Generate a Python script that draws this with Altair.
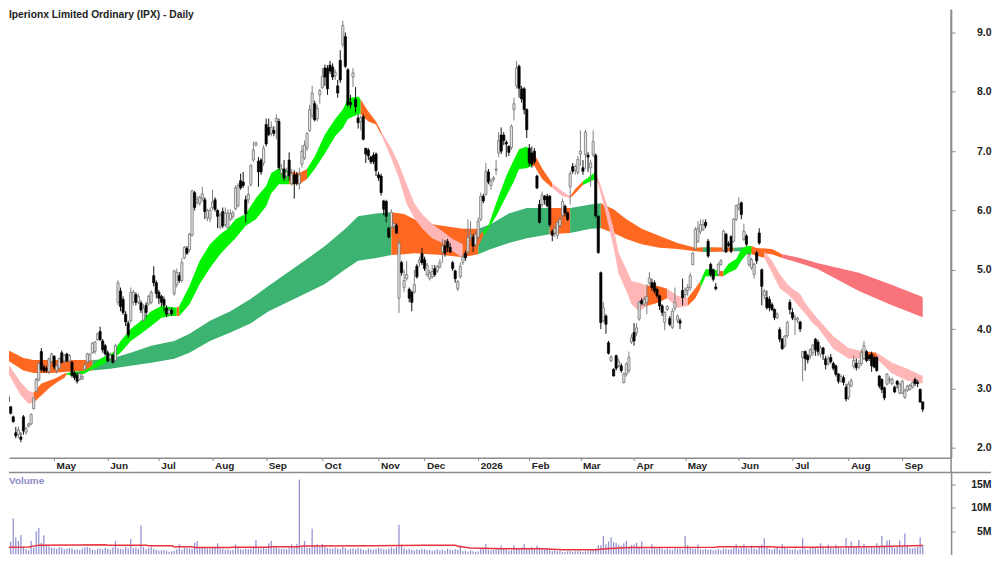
import altair as alt
import pandas as pd

titulo = "Iperionx Limited Ordinary (IPX) - Daily"
titulo_volume = "Volume"

abertura = [
    2.98,2.95,2.86,2.69,2.52,2.25,2.22,2.18,2.52,2.26,
    2.36,2.40,2.66,2.95,3.14,3.62,3.36,3.34,3.28,3.45,
    3.54,3.30,3.34,3.60,3.46,3.58,3.46,3.44,3.26,3.22,
    3.15,3.16,3.32,3.44,3.46,3.60,3.62,3.82,3.96,3.80,
    3.72,3.60,3.50,3.56,3.47,4.45,4.64,4.50,4.25,4.10,
    4.14,4.45,4.58,4.45,4.44,4.15,4.40,4.42,4.45,4.90,
    4.78,4.62,4.55,4.50,4.35,4.26,4.32,4.60,4.75,4.90,
    4.82,5.20,5.36,5.34,5.58,6.30,6.14,6.12,6.20,6.18,
    5.88,5.86,6.05,6.18,6.00,5.72,5.98,5.76,5.71,5.85,
    5.90,6.03,6.08,6.50,6.48,6.18,6.18,6.44,6.85,7.10,
    6.83,6.85,6.80,7.45,7.40,7.30,7.35,7.50,7.50,6.62,
    6.70,6.58,6.85,6.45,6.60,6.60,6.45,6.78,6.88,7.05,
    7.35,7.60,7.80,7.55,7.95,8.07,8.40,8.40,8.45,8.42,
    8.27,8.10,8.53,8.80,8.93,8.37,7.82,8.25,7.87,7.56,
    7.50,7.58,7.05,7.02,6.90,6.93,6.95,6.60,6.58,6.16,
    6.15,5.70,5.72,5.72,5.75,4.52,5.12,4.70,4.85,4.67,
    4.62,4.62,5.06,5.12,5.27,5.17,4.92,4.85,4.88,5.02,
    4.98,5.05,5.30,5.40,5.48,5.38,5.12,4.98,4.68,4.88,
    5.12,5.28,5.30,5.55,5.55,5.42,5.55,5.85,6.24,6.27,
    6.65,6.42,6.52,6.68,6.97,7.27,7.27,7.15,7.08,7.06,
    7.70,8.10,8.43,8.05,8.05,7.70,7.05,6.97,7.00,6.58,
    6.10,6.10,6.24,6.24,6.24,5.65,5.62,5.58,5.74,5.92,
    6.07,5.96,6.40,6.74,6.68,6.64,6.95,6.72,6.94,6.93,
    6.72,6.94,6.93,5.90,4.95,4.14,4.22,3.77,3.47,3.32,
    3.55,3.38,3.38,3.10,3.24,3.30,3.78,3.94,3.94,4.17,
    4.48,4.42,4.45,4.78,4.78,4.78,4.67,4.56,4.39,4.11,
    4.33,4.18,4.03,4.35,4.15,4.14,4.65,4.58,4.65,4.70,
    5.09,5.35,5.48,5.65,5.68,5.80,5.48,5.09,5.00,4.71,
    4.92,5.09,5.32,5.60,5.44,5.56,5.48,5.85,6.04,6.13,
    5.51,5.57,5.09,5.03,4.92,5.29,5.62,5.00,4.56,4.53,
    4.50,4.41,4.33,4.19,3.99,3.83,3.72,3.89,4.45,4.28,
    4.16,4.15,4.12,3.52,3.62,3.55,3.55,3.60,3.83,3.78,
    3.58,3.68,3.50,3.42,3.52,3.42,3.38,3.24,3.12,3.18,
    3.02,2.85,3.04,3.37,3.42,3.36,3.42,3.50,3.62,3.55,
    3.58,3.52,3.52,3.21,3.15,3.01,3.07,3.14,3.08,3.02,
    3.12,2.92,2.92,2.85,2.97,2.98,3.02,3.15,3.10,2.98,
    2.77,
]
maxima = [
    3.00,3.00,2.88,2.70,2.54,2.35,2.36,2.26,2.55,2.35,
    2.42,2.58,2.85,3.18,3.45,3.68,3.40,3.38,3.52,3.60,
    3.56,3.42,3.52,3.64,3.58,3.60,3.58,3.46,3.30,3.27,
    3.30,3.24,3.42,3.60,3.60,3.78,3.80,3.94,4.04,3.83,
    3.75,3.64,3.60,3.58,3.75,4.82,4.70,4.55,4.30,4.14,
    4.70,4.66,4.62,4.60,4.48,4.42,4.45,4.58,4.65,5.06,
    4.82,4.66,4.58,4.55,4.40,4.36,4.36,5.00,5.02,4.96,
    5.20,5.40,5.40,5.62,6.35,6.33,6.24,6.25,6.40,6.22,
    6.03,6.05,6.35,6.22,6.02,5.96,6.05,6.05,6.02,6.02,
    6.00,6.42,6.46,6.62,6.65,6.25,6.42,6.78,7.16,7.16,
    6.90,6.88,7.10,7.55,7.55,7.50,7.42,7.62,7.55,6.78,
    6.85,6.72,6.98,6.70,6.68,6.65,6.72,7.10,7.18,7.32,
    7.78,8.10,7.85,7.78,8.05,8.40,8.46,8.45,8.52,8.48,
    8.38,8.20,8.70,9.20,9.00,8.40,7.95,8.40,8.08,7.62,
    7.60,7.62,7.05,7.05,6.92,6.98,6.98,6.65,6.62,6.18,
    6.18,5.72,6.02,5.80,5.78,5.52,5.15,5.00,5.15,4.70,
    4.65,5.00,5.10,5.22,5.37,5.22,5.12,5.00,5.08,5.08,
    5.08,5.18,5.52,5.50,5.52,5.45,5.15,5.00,4.83,5.12,
    5.27,5.32,5.85,5.82,5.60,5.65,5.88,6.30,6.28,6.80,
    6.70,6.54,6.58,6.85,7.32,7.40,7.32,7.18,7.10,7.45,
    7.90,8.52,8.46,8.10,8.08,7.72,7.12,7.08,7.05,6.60,
    6.18,6.32,6.26,6.28,6.26,5.68,5.76,5.82,5.90,6.20,
    6.10,5.98,6.66,6.80,6.78,6.92,7.35,6.85,7.36,6.98,
    6.85,7.35,6.96,5.92,4.97,4.45,4.25,3.80,3.56,3.34,
    3.57,3.50,3.42,3.27,3.44,3.62,3.92,4.10,4.10,4.48,
    4.52,4.55,4.76,4.96,4.85,4.82,4.70,4.58,4.42,4.30,
    4.40,4.22,4.35,4.70,4.25,4.18,4.85,4.70,4.76,4.95,
    5.30,5.72,5.82,5.85,5.85,5.85,5.52,5.12,5.02,4.78,
    5.12,5.18,5.68,5.62,5.48,5.58,5.87,6.10,6.22,6.15,
    5.78,5.60,5.30,5.20,5.12,5.32,5.70,5.02,4.68,4.65,
    4.55,4.45,4.35,4.28,4.03,3.85,3.90,4.14,4.50,4.35,
    4.25,4.21,4.14,3.63,3.64,3.58,3.68,3.75,3.85,3.82,
    3.72,3.70,3.55,3.55,3.58,3.45,3.40,3.26,3.24,3.22,
    3.08,3.12,3.17,3.55,3.50,3.48,3.66,3.80,3.65,3.58,
    3.62,3.55,3.55,3.22,3.17,3.03,3.26,3.20,3.18,3.05,
    3.14,3.10,3.15,3.00,3.06,3.08,3.12,3.18,3.14,3.00,
    2.78,
]
minimas = [
    2.90,2.80,2.76,2.56,2.42,2.16,2.16,2.09,2.22,2.22,
    2.34,2.38,2.64,2.94,3.12,3.28,3.26,3.26,3.24,3.42,
    3.32,3.25,3.32,3.42,3.42,3.44,3.44,3.18,3.14,3.08,
    3.13,3.14,3.30,3.42,3.44,3.58,3.58,3.80,3.80,3.60,
    3.55,3.44,3.44,3.42,3.45,4.40,4.30,4.24,4.05,3.85,
    4.10,4.40,4.40,4.42,4.27,4.12,4.20,4.40,4.42,4.72,
    4.52,4.42,4.38,4.30,4.20,4.22,4.22,4.56,4.70,4.78,
    4.78,5.18,5.25,5.30,5.56,6.00,6.10,6.08,6.15,5.85,
    5.82,5.80,6.00,5.98,5.70,5.68,5.70,5.72,5.69,5.82,
    5.85,6.00,6.05,6.35,6.38,5.80,6.12,6.40,6.82,7.08,
    6.40,6.60,6.75,7.08,7.25,7.25,7.25,7.20,6.68,6.55,
    6.50,6.50,6.50,6.42,6.20,6.42,6.35,6.72,6.85,7.00,
    7.32,7.55,7.50,7.50,7.80,8.05,8.10,7.95,8.30,8.20,
    8.20,7.90,8.15,8.75,8.40,7.75,7.72,8.08,7.65,7.38,
    7.35,7.18,6.80,6.85,6.78,6.78,6.58,6.50,6.25,5.92,
    5.80,5.53,5.70,5.68,5.60,4.27,4.90,4.62,4.82,4.45,
    4.30,4.60,4.85,5.05,5.08,4.98,4.88,4.82,4.85,4.88,
    4.95,5.02,5.12,5.22,5.30,5.28,4.98,4.78,4.64,4.85,
    5.08,5.15,5.25,5.48,5.30,5.38,5.50,5.82,6.12,6.25,
    6.44,6.35,6.48,6.60,6.90,6.95,7.10,6.90,6.92,7.02,
    7.52,8.05,7.90,7.82,7.62,7.22,6.74,6.72,6.78,6.36,
    5.78,6.05,6.10,6.05,5.72,5.48,5.55,5.52,5.70,5.85,
    5.90,5.82,6.10,6.62,6.60,6.60,6.75,6.60,6.70,6.65,
    6.40,6.90,5.88,5.27,4.00,4.12,3.92,3.57,3.44,3.20,
    3.30,3.35,3.26,3.08,3.20,3.26,3.75,3.72,3.88,4.14,
    4.40,4.38,4.25,4.74,4.65,4.60,4.52,4.32,4.22,3.98,
    4.30,4.05,4.00,4.30,4.10,4.00,4.40,4.52,4.55,4.65,
    5.07,5.33,5.45,5.60,5.65,5.70,5.20,4.88,4.80,4.65,
    4.90,5.07,5.30,5.28,5.38,5.28,5.46,5.82,6.00,5.85,
    5.48,5.40,5.05,5.00,4.85,5.10,5.42,4.40,4.50,4.33,
    4.30,4.30,4.15,4.17,3.78,3.65,3.68,3.85,4.25,4.15,
    3.90,4.10,3.95,3.12,3.30,3.42,3.50,3.55,3.55,3.55,
    3.52,3.48,3.32,3.38,3.42,3.30,3.20,3.08,3.10,3.05,
    2.78,2.80,3.02,3.33,3.30,3.32,3.38,3.48,3.44,3.46,
    3.28,3.34,3.28,3.00,2.92,2.80,3.05,3.08,3.05,2.92,
    3.00,2.90,2.90,2.82,2.94,2.96,3.00,3.04,3.02,2.76,
    2.60,
]
fechamento = [
    2.92,2.82,2.78,2.58,2.44,2.20,2.30,2.14,2.28,2.32,
    2.40,2.56,2.84,3.15,3.42,3.32,3.30,3.30,3.50,3.58,
    3.36,3.38,3.50,3.44,3.56,3.46,3.55,3.22,3.18,3.12,
    3.25,3.20,3.40,3.58,3.57,3.76,3.78,3.92,3.82,3.65,
    3.58,3.46,3.56,3.44,3.72,4.78,4.38,4.28,4.12,3.90,
    4.62,4.62,4.45,4.55,4.32,4.35,4.28,4.55,4.62,4.78,
    4.60,4.52,4.45,4.40,4.25,4.32,4.26,4.98,4.95,4.82,
    5.12,5.38,5.28,5.60,6.33,6.05,6.18,6.22,6.28,5.98,
    6.00,6.00,6.14,6.02,5.90,5.92,5.74,5.95,5.96,5.95,
    5.96,6.38,6.42,6.38,6.42,5.94,6.27,6.76,7.02,7.14,
    6.65,6.65,7.05,7.12,7.28,7.40,7.30,7.55,6.72,6.70,
    6.55,6.65,6.58,6.62,6.45,6.46,6.60,7.00,7.10,7.30,
    7.70,7.98,7.53,7.72,8.02,8.26,8.25,8.05,8.35,8.25,
    8.33,7.98,8.20,9.12,8.43,7.78,7.78,8.32,7.75,7.48,
    7.56,7.20,6.95,6.92,6.82,6.82,6.67,6.55,6.30,6.02,
    5.90,5.55,5.97,5.78,5.62,5.45,4.95,4.82,4.92,4.52,
    4.45,4.75,4.88,5.16,5.12,5.02,5.08,4.95,4.97,4.92,
    5.05,5.12,5.40,5.28,5.38,5.30,5.02,4.85,4.80,5.06,
    5.22,5.20,5.55,5.58,5.40,5.60,5.82,6.24,6.16,6.66,
    6.48,6.50,6.55,6.70,7.18,7.00,7.18,7.12,6.98,7.42,
    7.80,8.40,8.06,7.88,7.70,7.36,6.80,6.78,6.82,6.38,
    5.80,6.26,6.18,6.08,5.76,5.58,5.70,5.80,5.85,6.15,
    5.96,5.85,6.62,6.66,6.74,6.86,7.00,6.66,7.32,6.90,
    6.80,7.16,5.91,5.29,4.11,4.36,4.08,3.59,3.53,3.21,
    3.34,3.45,3.30,3.24,3.41,3.52,3.86,3.80,4.02,4.45,
    4.43,4.50,4.55,4.86,4.70,4.64,4.56,4.39,4.28,4.28,
    4.38,4.08,4.30,4.45,4.22,4.10,4.53,4.66,4.70,4.90,
    5.28,5.68,5.70,5.76,5.76,5.74,5.23,4.92,4.84,4.68,
    5.09,5.15,5.65,5.30,5.41,5.31,5.85,6.08,6.10,5.93,
    5.65,5.43,5.26,5.17,5.09,5.15,5.45,4.72,4.64,4.36,
    4.36,4.33,4.19,4.25,3.83,3.67,3.88,4.11,4.33,4.19,
    4.19,4.18,4.00,3.62,3.50,3.48,3.65,3.73,3.65,3.62,
    3.68,3.58,3.40,3.50,3.45,3.34,3.24,3.12,3.20,3.10,
    2.82,3.07,3.13,3.47,3.35,3.42,3.60,3.72,3.47,3.50,
    3.38,3.36,3.30,3.04,2.98,2.84,3.24,3.16,3.15,2.94,
    3.07,3.07,3.12,2.96,3.04,3.05,3.10,3.08,3.08,2.77,
    2.65,
]
volume = [
    1.0,1.1,1.2,2.7,7.7,3.7,2.9,4.2,1.7,1.1,
    0.8,2.9,1.5,5.0,5.7,2.5,4.1,1.8,1.7,1.5,
    1.4,1.2,1.6,1.5,1.1,1.3,1.4,1.3,1.0,1.1,
    0.9,1.3,1.5,1.6,1.4,1.0,0.9,1.2,1.3,1.1,
    1.4,1.2,1.0,1.5,2.9,1.4,1.2,1.1,1.6,1.3,
    3.3,1.4,1.5,1.2,6.2,1.6,1.1,1.4,1.7,1.2,
    1.0,0.8,0.9,0.9,0.8,0.6,0.7,0.8,1.1,2.2,
    1.0,1.5,1.4,1.3,1.2,2.5,2.9,1.6,1.5,1.4,
    1.3,1.2,1.4,1.5,2.4,1.3,1.2,1.0,1.1,0.9,
    1.0,2.2,1.4,1.1,1.0,1.3,1.1,1.2,1.4,3.1,
    1.6,1.3,1.5,1.2,2.4,2.9,1.4,1.5,1.3,1.2,
    1.3,1.1,1.5,2.2,1.5,2.3,16.1,1.6,2.9,1.5,
    1.4,5.5,1.8,2.2,1.6,2.3,1.7,1.4,1.3,1.2,
    1.5,1.3,1.1,1.6,1.4,1.0,1.2,1.3,1.1,1.4,
    1.2,1.0,0.9,1.3,1.1,1.0,1.2,1.4,1.3,1.1,
    1.0,1.2,1.5,1.3,1.6,6.4,2.1,1.3,1.0,1.2,
    1.0,0.9,1.1,1.0,1.2,1.1,0.9,1.0,0.8,0.9,
    1.1,0.9,1.0,0.8,1.2,1.0,0.9,1.1,1.0,2.0,
    0.7,0.8,0.6,0.9,0.7,0.6,0.7,1.2,1.3,2.3,
    1.0,0.9,1.0,1.1,1.3,1.9,1.2,1.0,0.8,0.9,
    2.0,1.3,1.2,1.5,2.2,1.4,1.3,1.6,1.2,1.9,
    1.5,1.1,1.0,1.3,0.9,0.8,1.0,0.7,0.8,0.6,
    0.5,0.7,0.8,0.6,0.7,0.8,0.7,0.6,0.7,0.8,
    0.9,1.1,1.3,2.0,2.0,4.0,2.2,2.8,3.7,2.6,
    2.5,2.1,1.8,2.4,2.9,1.6,2.0,2.1,2.5,1.4,
    2.8,1.3,1.2,1.1,2.2,1.4,1.3,1.5,1.2,1.0,
    1.3,1.1,1.0,1.4,1.2,1.3,1.1,4.0,2.0,1.4,
    1.3,1.2,2.2,1.1,1.0,1.2,1.0,1.1,0.9,1.0,
    1.1,0.9,1.3,1.2,1.0,1.1,1.4,2.2,1.3,1.5,
    2.2,1.4,1.2,1.9,1.3,1.1,1.6,2.1,3.5,1.5,
    1.2,1.0,1.3,1.5,1.1,2.2,1.4,1.3,1.1,1.0,
    1.2,0.9,1.1,3.5,1.3,1.0,1.4,1.6,1.5,1.3,
    2.4,1.7,1.2,2.1,1.5,1.3,2.1,1.6,1.4,1.2,
    3.5,1.7,2.8,1.5,1.6,3.1,1.4,2.3,1.5,1.3,
    1.6,1.4,2.4,1.7,4.0,1.9,3.0,3.1,1.8,1.4,
    1.7,3.0,1.6,4.5,1.9,1.4,1.3,1.5,1.6,3.7,
    2.1,
]

media_dia = [0,10,14,40,41,56,57,66,67,74,75,89,90,104,105,116,117,145,165,177,178,183,196,211,219,232,236,245,279,280,301,303,317,340,360]
media_vol = [1.5,1.6,2.0,2.07,2.0,2.0,1.87,1.87,1.67,1.67,1.47,1.47,1.53,1.53,1.67,1.67,1.8,1.85,2.0,2.0,1.75,1.4,1.2,1.2,1.0,1.0,1.2,1.47,1.53,1.67,1.67,1.53,1.53,1.67,1.93]

# faixa curta: dia, topo, base
curta_dia = [0,3,7,10,12,15,18,21,24,25,27,32,34,38,43,46,50,54,58,62,66,68,69,73,77,81,85,88,91,95,99,103,105,108,112,116,119,122,126,130,133,135,139,140,143,146,148,152,155,158,161,164,168,172,176,180,183,186,188,190,193,197,200,202,205,207,208,211,215,219,222,224,227,232,233,236,239,241,244,246,249,252,256,260,264,268,271,273,275,278,280,282,284,287,289,291,293,298,301,304,307,309,312,314,317,319,325,331,336,342,348,354,360]
curta_topo = [3.55,3.35,3.10,2.96,2.93,3.08,3.13,3.18,3.25,3.26,3.27,3.30,3.35,3.50,3.60,3.80,4.00,4.14,4.30,4.39,4.37,4.36,4.39,4.73,5.15,5.43,5.60,5.69,5.85,5.94,6.21,6.41,6.63,6.71,6.66,6.63,6.70,6.91,7.28,7.54,7.70,7.89,7.92,7.87,7.67,7.50,7.33,7.05,6.78,6.44,6.12,5.94,5.77,5.65,5.52,5.43,5.48,5.57,5.65,5.74,6.12,6.58,6.86,7.03,7.08,6.96,6.95,6.71,6.46,6.32,6.24,6.36,6.49,6.65,6.54,6.16,5.70,5.28,5.01,4.81,4.78,4.73,4.73,4.68,4.56,4.52,4.69,4.81,5.01,5.01,4.98,4.98,5.10,5.18,5.35,5.40,5.40,5.31,5.15,4.93,4.76,4.68,4.59,4.44,4.27,4.17,3.88,3.68,3.63,3.60,3.43,3.33,3.21]
curta_base = [3.41,3.18,2.88,2.74,2.76,2.88,3.00,3.10,3.18,3.24,3.21,3.25,3.30,3.38,3.50,3.60,3.80,3.92,4.05,4.19,4.22,4.22,4.22,4.42,4.76,5.03,5.26,5.40,5.53,5.74,5.85,6.07,6.29,6.44,6.44,6.44,6.53,6.70,6.96,7.25,7.39,7.54,7.62,7.62,7.50,7.45,7.28,6.88,6.54,6.11,5.87,5.70,5.53,5.45,5.31,5.20,5.28,5.40,5.57,5.69,5.90,6.24,6.49,6.70,6.71,6.75,6.75,6.53,6.38,6.24,6.21,6.29,6.43,6.53,6.44,5.94,5.37,4.93,4.64,4.42,4.30,4.39,4.44,4.52,4.36,4.39,4.52,4.69,4.89,4.89,4.89,4.89,4.95,5.01,5.15,5.26,5.26,5.20,4.95,4.69,4.59,4.51,4.36,4.26,4.10,4.02,3.67,3.50,3.50,3.50,3.25,3.13,3.08]
curta_trechos = [
    (0,12,"rosa"),(12,25,"laranja"),(25,68,"verde"),(68,69,"laranja"),(69,112,"verde"),
    (112,119,"laranja"),(119,140,"verde"),(140,148,"laranja"),(148,180,"rosa"),(180,188,"laranja"),
    (188,207,"verde"),(207,215,"laranja"),(215,222,"rosa"),(222,227,"laranja"),(227,232,"verde"),
    (232,252,"rosa"),(252,260,"laranja"),(260,268,"rosa"),(268,273,"laranja"),(273,280,"verde"),
    (280,282,"laranja"),(282,293,"verde"),(293,298,"laranja"),(298,336,"rosa"),(336,342,"laranja"),
    (342,360,"rosa"),
]

# faixa longa
longa_dia = [0,4,8,12,19,25,35,42,50,58,67,73,81,89,97,104,118,126,134,139,146,152,157,161,167,172,180,186,191,198,205,214,222,230,234,239,244,250,257,264,271,274,277,286,290,301,305,312,319,335,347,360]
longa_topo = [3.68,3.60,3.51,3.48,3.48,3.48,3.48,3.50,3.60,3.72,3.80,3.92,4.14,4.30,4.51,4.73,5.15,5.40,5.69,5.90,5.95,5.97,5.94,5.85,5.77,5.74,5.69,5.69,5.77,5.95,6.04,6.04,6.04,6.10,6.12,6.02,5.85,5.69,5.57,5.45,5.37,5.38,5.38,5.37,5.38,5.35,5.26,5.20,5.11,4.95,4.76,4.54]
longa_base = [3.53,3.41,3.30,3.26,3.26,3.28,3.30,3.33,3.38,3.43,3.50,3.60,3.80,3.94,4.10,4.30,4.59,4.76,5.01,5.15,5.20,5.25,5.26,5.28,5.26,5.25,5.21,5.26,5.35,5.45,5.53,5.60,5.62,5.69,5.70,5.62,5.52,5.43,5.37,5.35,5.31,5.30,5.30,5.31,5.31,5.26,5.20,5.11,5.01,4.64,4.42,4.20]
longa_trechos = [
    (0,35,"laranja"),(35,152,"escuro"),(152,186,"laranja"),(186,214,"escuro"),(214,222,"laranja"),
    (222,234,"escuro"),(234,274,"laranja"),(274,277,"escuro"),(277,286,"laranja"),(286,290,"escuro"),
    (290,305,"laranja"),(305,360,"vermelho"),
]

cores = {"rosa": "#ffb6b6", "laranja": "#ff6820", "verde": "#00f400", "escuro": "#3cb371", "vermelho": "#f8737a"}

meses_dia = [20, 41, 61, 82, 103, 125, 147, 165, 186, 206, 226, 247, 267, 288, 309, 331, 352]
meses_nome = ["May", "Jun", "Jul", "Aug", "Sep", "Oct", "Nov", "Dec", "2026", "Feb", "Mar", "Apr", "May", "Jun", "Jul", "Aug", "Sep"]
precos_eixo = [2.0, 2.5, 3.0, 3.5, 4.0, 4.5, 5.0, 5.5, 6.0, 6.5, 7.0, 7.5, 8.0, 8.5, 9.0]
volumes_eixo = [5, 10, 15]

FONTE = "Liberation Sans"
CINZA = "#8c8c8c"


def montar_faixa(dias, topo, base, trechos):
    faixa = pd.DataFrame({"dia": dias, "topo": topo, "base": base})
    partes = []
    for n, (inicio, fim, cor) in enumerate(trechos):
        parte = faixa[(faixa["dia"] >= inicio) & (faixa["dia"] <= fim)].copy()
        parte["trecho"] = n
        parte["cor"] = cores[cor]
        partes.append(parte)
    return pd.concat(partes)


def grafico_faixa(df):
    return alt.Chart(df).mark_area(clip=True, opacity=1).encode(
        x="dia:Q",
        y="topo:Q",
        y2="base:Q",
        color=alt.Color("cor:N", scale=None),
        detail="trecho:N",
    )


candles = pd.DataFrame({
    "dia": range(len(abertura)),
    "abre": abertura,
    "max": maxima,
    "min": minimas,
    "fecha": fechamento,
    "vol": volume,
})
candles["sobe"] = candles["fecha"] >= candles["abre"]
candles["pavio"] = candles["sobe"].map({True: "#808080", False: "#111111"})
candles["corpo"] = candles["sobe"].map({True: "#e4e4e4", False: "#000000"})
candles["borda"] = candles["sobe"].map({True: "#666666", False: "#000000"})

eixo_x = alt.X(
    "dia:Q",
    title=None,
    scale=alt.Scale(domain=[2.34, 371.1], nice=False, zero=False, padding=0),
    axis=alt.Axis(
        values=meses_dia,
        labelExpr=f"{meses_nome}[indexof({meses_dia}, datum.value)]",
        labelAlign="left",
        labelOffset=2,
        labelPadding=0,
        labelFont=FONTE,
        labelFontSize=10,
        labelFontWeight="bold",
        labelColor="#222222",
        labelFlush=False,
        labelOverlap=False,
        tickSize=3,
        tickColor=CINZA,
        domainColor=CINZA,
        domainWidth=1.5,
        grid=False,
    ),
)
eixo_y = alt.Y(
    "max:Q",
    title=None,
    scale=alt.Scale(domain=[1.832, 9.387], nice=False, zero=False),
    axis=alt.Axis(
        orient="right",
        values=precos_eixo,
        format=".1f",
        labelAlign="right",
        labelPadding=36,
        labelFont=FONTE,
        labelFontSize=10.5,
        labelFontWeight="bold",
        labelColor="#222222",
        tickSize=4,
        tickColor=CINZA,
        domainColor=CINZA,
        domainWidth=1.5,
        grid=False,
    ),
)

pavios = alt.Chart(candles).mark_rule(clip=True, strokeWidth=1).encode(
    x=eixo_x,
    y=eixo_y,
    y2="min:Q",
    color=alt.Color("pavio:N", scale=None),
)
corpos = alt.Chart(candles).mark_bar(clip=True, size=2.2, strokeWidth=0.7, orient="vertical").encode(
    x="dia:Q",
    y="abre:Q",
    y2="fecha:Q",
    fill=alt.Fill("corpo:N", scale=None),
    stroke=alt.Stroke("borda:N", scale=None),
)
texto_titulo = alt.Chart({"values": [{"t": titulo}]}).mark_text(
    align="left", baseline="top", font=FONTE, fontSize=10.3, fontWeight="bold", color="#222222"
).encode(x=alt.value(0), y=alt.value(0), text="t:N")
linha_vertical = alt.Chart({"values": [{}]}).mark_rule(color=CINZA, strokeWidth=1.5).encode(
    x=alt.value(944), y=alt.value(0), y2=alt.value(464)
)

painel_preco = alt.layer(
    grafico_faixa(montar_faixa(longa_dia, longa_topo, longa_base, longa_trechos)),
    grafico_faixa(montar_faixa(curta_dia, curta_topo, curta_base, curta_trechos)),
    pavios,
    corpos,
    texto_titulo,
    linha_vertical,
).properties(width=944, height=449)

eixo_x_vol = alt.X(
    "dia:Q",
    title=None,
    scale=alt.Scale(domain=[2.34, 371.1], nice=False, zero=False, padding=0),
    axis=None,
)
eixo_y_vol = alt.Y(
    "vol:Q",
    title=None,
    scale=alt.Scale(domain=[0, 17.57], nice=False, zero=False),
    axis=alt.Axis(
        orient="right",
        values=volumes_eixo,
        labelExpr="datum.value + 'M'",
        labelAlign="right",
        labelPadding=36,
        labelFont=FONTE,
        labelFontSize=10.5,
        labelFontWeight="bold",
        labelColor="#222222",
        tickSize=4,
        tickColor=CINZA,
        domainColor=CINZA,
        domainWidth=1.5,
        grid=False,
    ),
)
barras_vol = alt.Chart(candles).mark_bar(clip=True, size=1.2, color="#8c8cd2").encode(
    x=eixo_x_vol,
    y=eixo_y_vol,
    y2=alt.Y2(datum=0),
)
media = pd.DataFrame({"dia": media_dia, "media": media_vol})
linha_media = alt.Chart(media).mark_line(clip=True, color="#e8323c", strokeWidth=1.5).encode(
    x="dia:Q",
    y="media:Q",
)
texto_volume = alt.Chart({"values": [{"t": titulo_volume}]}).mark_text(
    align="left", baseline="top", font=FONTE, fontSize=10, fontWeight="bold", color="#8c8cc8"
).encode(x=alt.value(0), y=alt.value(3), text="t:N")
linha_horizontal = alt.Chart({"values": [{}]}).mark_rule(color=CINZA, strokeWidth=1.5).encode(
    x=alt.value(0), x2=alt.value(984), y=alt.value(0)
)

painel_volume = alt.layer(
    barras_vol,
    linha_media,
    texto_volume,
    linha_horizontal,
).properties(width=944, height=82)

chart = alt.vconcat(painel_preco, painel_volume, spacing=15, bounds="flush").properties(
    padding=0
).configure_view(strokeWidth=0).configure_axis(labelLimit=80)

chart.save("out.html", embed_options={"renderer": "svg", "actions": False})
